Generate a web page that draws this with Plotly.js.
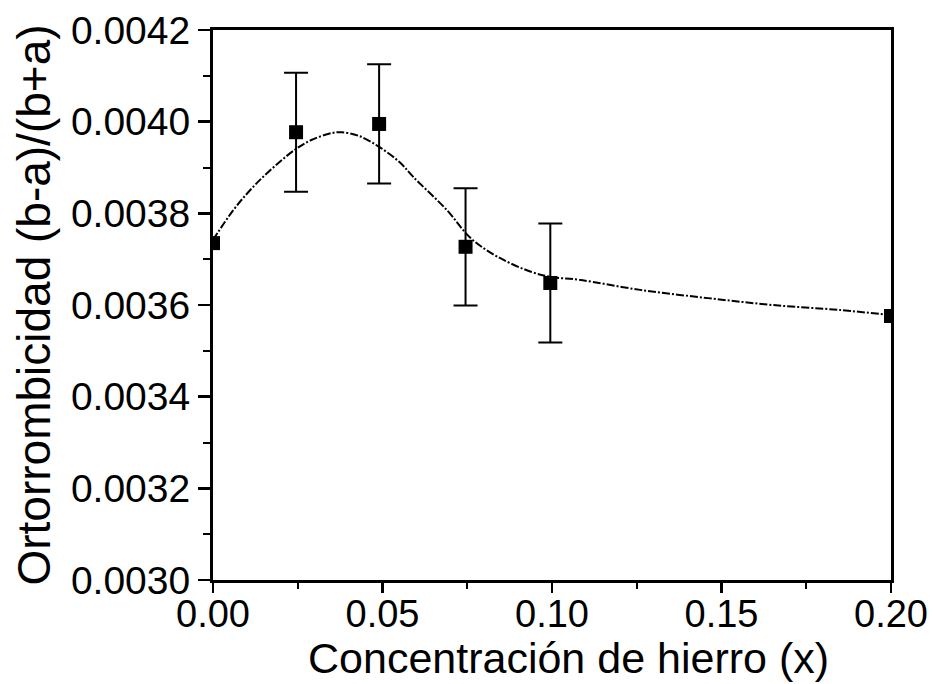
<!DOCTYPE html>
<html>
<head>
<meta charset="utf-8">
<script src="https://cdn.plot.ly/plotly-3.0.1.min.js"></script>
<style>html,body{margin:0;padding:0;background:#fff;}#chart{width:933px;height:684px;}</style>
</head>
<body>
<div id="chart"></div>
<script>
// Measured points
const ironConc = [0.000, 0.0245, 0.049, 0.0745, 0.0995, 0.200];
const orthoVals = [0.003735, 0.003977, 0.003995, 0.003727, 0.003648, 0.003576];
const orthoErr = [null, 0.00013, 0.00013, 0.000128, 0.00013, null];

// Fitted guide curve
const fitX = [0.000, 0.006, 0.011, 0.016, 0.024, 0.029, 0.035, 0.038, 0.043, 0.049, 0.055, 0.059, 0.069, 0.076, 0.084, 0.094, 0.100, 0.108, 0.126, 0.146, 0.165, 0.185, 0.200];
const fitY = [0.003742, 0.003807, 0.003851, 0.003888, 0.003938, 0.003960, 0.003975, 0.003977, 0.003969, 0.003945, 0.003912, 0.003880, 0.003807, 0.003746, 0.003705, 0.003672, 0.003661, 0.003655, 0.003633, 0.003615, 0.003600, 0.003589, 0.003578];

const xTickVals = [0, 0.05, 0.10, 0.15, 0.20];
const xTickText = ['0.00', '0.05', '0.10', '0.15', '0.20'];
const yTickVals = [0.0030, 0.0032, 0.0034, 0.0036, 0.0038, 0.0040, 0.0042];
const yTickText = ['0.0030', '0.0032', '0.0034', '0.0036', '0.0038', '0.0040', '0.0042'];

const xTitle = 'Concentración de hierro (x)';
const yTitle = 'Ortorrombicidad (b-a)/(b+a)';

const font = 'Liberation Sans, Arial, sans-serif';

// points that carry an error bar
const errIdx = orthoErr.map((e, i) => e === null ? -1 : i).filter(i => i >= 0);

const traces = [
  {
    x: fitX, y: fitY, type: 'scatter', mode: 'lines',
    line: {color: '#000', width: 2, dash: '8px,2px,2px,2px', shape: 'spline'},
    hoverinfo: 'skip', showlegend: false
  },
  {
    x: errIdx.map(i => ironConc[i]), y: errIdx.map(i => orthoVals[i]),
    type: 'scatter', mode: 'markers',
    marker: {size: 1, color: 'rgba(0,0,0,0)'},
    error_y: {type: 'data', array: errIdx.map(i => orthoErr[i]), visible: true, color: '#000', thickness: 2, width: 12},
    showlegend: false
  },
  {
    x: ironConc, y: orthoVals, type: 'scatter', mode: 'markers',
    marker: {symbol: 'square', size: 14, color: '#000'},
    showlegend: false
  }
];

const layout = {
  width: 933, height: 684,
  margin: {l: 213, r: 42, t: 30, b: 104},
  paper_bgcolor: '#fff', plot_bgcolor: '#fff',
  font: {family: font, color: '#000'},
  showlegend: false,
  xaxis: {
    range: [0, 0.2], tickvals: xTickVals, ticktext: xTickText,
    ticks: 'outside', ticklen: 10, tickwidth: 2.5, tickcolor: '#000',
    ticklabelstandoff: -12,
    minor: {dtick: 0.025, tick0: 0, ticks: 'outside', ticklen: 6, tickwidth: 2, tickcolor: '#000', showgrid: false},
    showline: true, linewidth: 3, linecolor: '#000', mirror: true,
    showgrid: false, zeroline: false,
    tickfont: {size: 38, family: font, color: '#000'}
  },
  yaxis: {
    range: [0.0030, 0.0042], tickvals: yTickVals, ticktext: yTickText,
    ticks: 'outside', ticklen: 12, tickwidth: 2.5, tickcolor: '#000',
    minor: {dtick: 0.0001, tick0: 0.0030, ticks: 'outside', ticklen: 7, tickwidth: 2, tickcolor: '#000', showgrid: false},
    showline: true, linewidth: 3, linecolor: '#000', mirror: true,
    showgrid: false, zeroline: false,
    tickfont: {size: 39, family: font, color: '#000'},
    title: {text: yTitle, font: {size: 46, family: font, color: '#000'}, standoff: 6}
  },
  annotations: [
    {
      text: xTitle, xref: 'paper', yref: 'paper',
      x: 0.525, y: -0.142, xanchor: 'center', yanchor: 'middle',
      showarrow: false, font: {size: 43, family: font, color: '#000'}
    }
  ]
};

Plotly.newPlot('chart', traces, layout, {displayModeBar: false, staticPlot: true});
</script>
</body>
</html>
